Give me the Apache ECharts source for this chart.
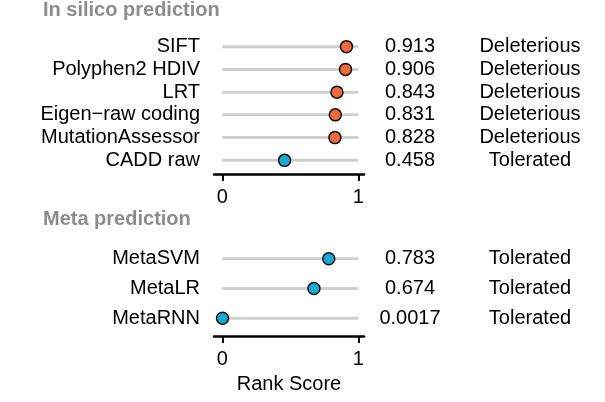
<!DOCTYPE html>
<html>
<head>
  <meta charset="utf-8">
</head>
<body style="margin: 0; background: #fff">
  <div id="container" style="width: 605px; height: 402px"></div>
  <script src="https://cdn.jsdelivr.net/npm/echarts@6/dist/echarts.min.js"></script>
  <script>
    // in silico panel
    var siliCats = ['SIFT', 'Polyphen2 HDIV', 'LRT', 'Eigen\u2212raw coding', 'MutationAssessor', 'CADD raw'];
    var siliScores = [0.913, 0.906, 0.843, 0.831, 0.828, 0.458];
    var siliClass = ['Deleterious', 'Deleterious', 'Deleterious', 'Deleterious', 'Deleterious', 'Tolerated'];
    // meta panel
    var metaCats = ['MetaSVM', 'MetaLR', 'MetaRNN'];
    var metaScores = [0.783, 0.674, 0.0017];
    var metaClass = ['Tolerated', 'Tolerated', 'Tolerated'];
    var xTicks = [0, 1];

    var font = "'Liberation Sans', Arial, Helvetica, sans-serif";
    var fs = 20;
    var classColor = { Deleterious: '#ee6a3a', Tolerated: '#1aa9d4' };

    var dom = document.getElementById('container');
    var myChart = echarts.init(dom, null, { renderer: 'canvas' });

    function idxList(n) {
      var a = [];
      for (var i = 0; i < n; i++) a.push(i);
      return a;
    }

    function xAxisFor(grid, withName) {
      return {
        type: 'value', gridIndex: grid, min: -0.061, max: 1.042,
        splitLine: { show: false },
        axisLine: { show: true, onZero: false, lineStyle: { color: '#000', width: 2.5 } },
        axisTick: { show: true, customValues: xTicks, length: 7, lineStyle: { color: '#000', width: 2 } },
        axisLabel: { customValues: xTicks, fontSize: fs, color: '#000', fontFamily: font, margin: 13 },
        name: withName ? 'Rank Score' : '',
        nameLocation: 'middle', nameGap: 38,
        nameTextStyle: { fontSize: fs, color: '#000', fontFamily: font }
      };
    }

    function yAxisFor(grid, n, pos, margin, align, fmt) {
      return {
        type: 'value', gridIndex: grid, min: -0.6, max: n - 0.4, inverse: true,
        position: pos,
        splitLine: { show: false }, axisLine: { show: false }, axisTick: { show: false },
        axisLabel: {
          customValues: idxList(n), fontSize: fs, color: '#000', fontFamily: font,
          margin: margin, align: align,
          formatter: function (v) { return fmt(Math.round(v)); }
        }
      };
    }

    function segSeries(axis, n) {
      return {
        type: 'custom', xAxisIndex: axis, yAxisIndex: axis * 3,
        data: idxList(n).map(function (i) { return [0, i]; }),
        renderItem: function (params, api) {
          var y = api.value(1);
          var p0 = api.coord([0, y]);
          var p1 = api.coord([1, y]);
          return {
            type: 'line',
            shape: { x1: p0[0], y1: p0[1], x2: p1[0], y2: p1[1] },
            style: { stroke: '#cfcfcf', lineWidth: 3 }
          };
        },
        silent: true, z: 1
      };
    }

    function dotSeries(axis, scores, cls) {
      return {
        type: 'scatter', xAxisIndex: axis, yAxisIndex: axis * 3,
        data: scores.map(function (s, i) { return [s, i]; }),
        symbolSize: 12,
        itemStyle: {
          color: function (p) { return classColor[cls[p.dataIndex]]; },
          borderColor: '#111', borderWidth: 1.5, opacity: 1
        },
        z: 3
      };
    }

    var option = {
      animation: false,
      title: [
        { text: 'In silico prediction', left: 43, top: 0, padding: 0,
          textStyle: { fontSize: fs, fontWeight: 'bold', color: '#8c8c8c', fontFamily: font } },
        { text: 'Meta prediction', left: 43, top: 209, padding: 0,
          textStyle: { fontSize: fs, fontWeight: 'bold', color: '#8c8c8c', fontFamily: font } }
      ],
      grid: [
        { left: 214, right: 241, top: 33, height: 141 },
        { left: 214, right: 241, top: 241, height: 95 }
      ],
      xAxis: [xAxisFor(0, false), xAxisFor(1, true)],
      yAxis: [
        yAxisFor(0, siliCats.length, 'left', 14, 'right', function (i) { return siliCats[i]; }),
        yAxisFor(0, siliCats.length, 'right', 46, 'center', function (i) { return String(siliScores[i]); }),
        yAxisFor(0, siliCats.length, 'right', 166, 'center', function (i) { return siliClass[i]; }),
        yAxisFor(1, metaCats.length, 'left', 14, 'right', function (i) { return metaCats[i]; }),
        yAxisFor(1, metaCats.length, 'right', 46, 'center', function (i) { return String(metaScores[i]); }),
        yAxisFor(1, metaCats.length, 'right', 166, 'center', function (i) { return metaClass[i]; })
      ],
      series: [
        segSeries(0, siliCats.length),
        dotSeries(0, siliScores, siliClass),
        segSeries(1, metaCats.length),
        dotSeries(1, metaScores, metaClass)
      ]
    };

    myChart.setOption(option);
    window.addEventListener('resize', myChart.resize);
  </script>
</body>
</html>
